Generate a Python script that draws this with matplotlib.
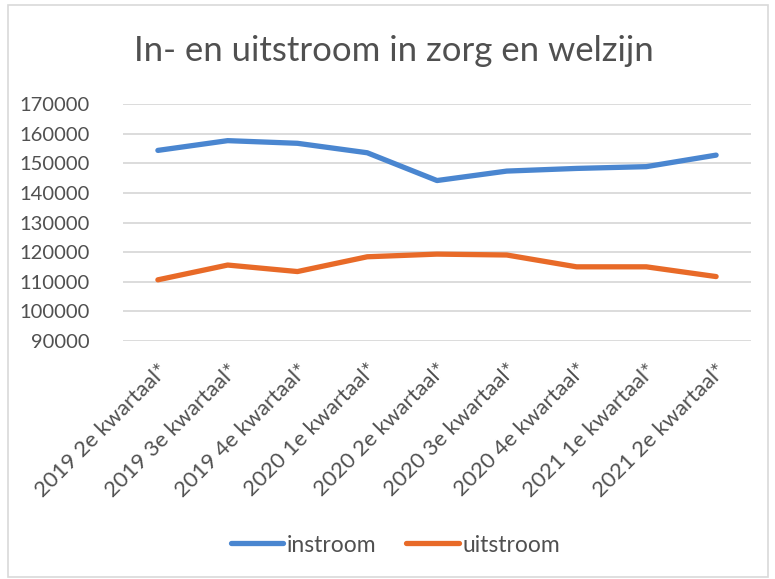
import matplotlib
matplotlib.use("Agg")
import matplotlib.pyplot as plt
from matplotlib.patches import Rectangle

# Data
kwartalen = ["2019 2e kwartaal*", "2019 3e kwartaal*", "2019 4e kwartaal*",
             "2020 1e kwartaal*", "2020 2e kwartaal*", "2020 3e kwartaal*",
             "2020 4e kwartaal*", "2021 1e kwartaal*", "2021 2e kwartaal*"]
instroom = [154400, 157700, 156800, 153600, 144200, 147400, 148300, 148900, 152800]
uitstroom = [110600, 115600, 113400, 118400, 119300, 119000, 115000, 115000, 111700]
yticks = list(range(90000, 170001, 10000))

plt.rcParams["font.family"] = ["Lato", "DejaVu Sans"]
text_color = "#505050"

fig = plt.figure(figsize=(7.75, 5.79), dpi=100)
ax = fig.add_axes([123 / 775, 1 - 340.7 / 579, (751 - 123) / 775, (340.7 - 104.3) / 579])

x = list(range(len(kwartalen)))
ax.plot(x, instroom, color="#4A86D0", lw=3.8, solid_capstyle="round", label="instroom")
ax.plot(x, uitstroom, color="#E86A28", lw=3.8, solid_capstyle="round", label="uitstroom")

ax.set_xlim(-0.5, len(kwartalen) - 0.5)
ax.set_ylim(90000, 170000)
ax.set_yticks(yticks)
ax.set_yticklabels([str(v) for v in yticks], fontsize=14.5)
ax.set_xticks(x)
ax.set_xticklabels(kwartalen, rotation=45, ha="right", rotation_mode="anchor", fontsize=15.8)
ax.tick_params(length=0, labelcolor=text_color)
ax.tick_params(axis="y", pad=24)
ax.tick_params(axis="x", pad=14)
ax.grid(axis="y", color="#d9d9d9", lw=1.3)
ax.set_axisbelow(True)
for s in ax.spines.values():
    s.set_visible(False)

fig.text(0.508, 1 - 51 / 579, "In- en uitstroom in zorg en welzijn", ha="center", va="center",
         fontsize=25, color=text_color)

fig.legend(loc="center", bbox_to_anchor=(0.51, 1 - 545 / 579), ncol=2, frameon=False,
           fontsize=16.5, labelcolor=text_color, handlelength=2.3, handletextpad=0.15,
           columnspacing=1.3)

fig.patches.append(Rectangle((8 / 775, 2 / 579), 760 / 775, 572 / 579, transform=fig.transFigure,
                             fill=False, edgecolor="#d9d9d9", lw=1.2))

fig.savefig("out.png", dpi=100)
